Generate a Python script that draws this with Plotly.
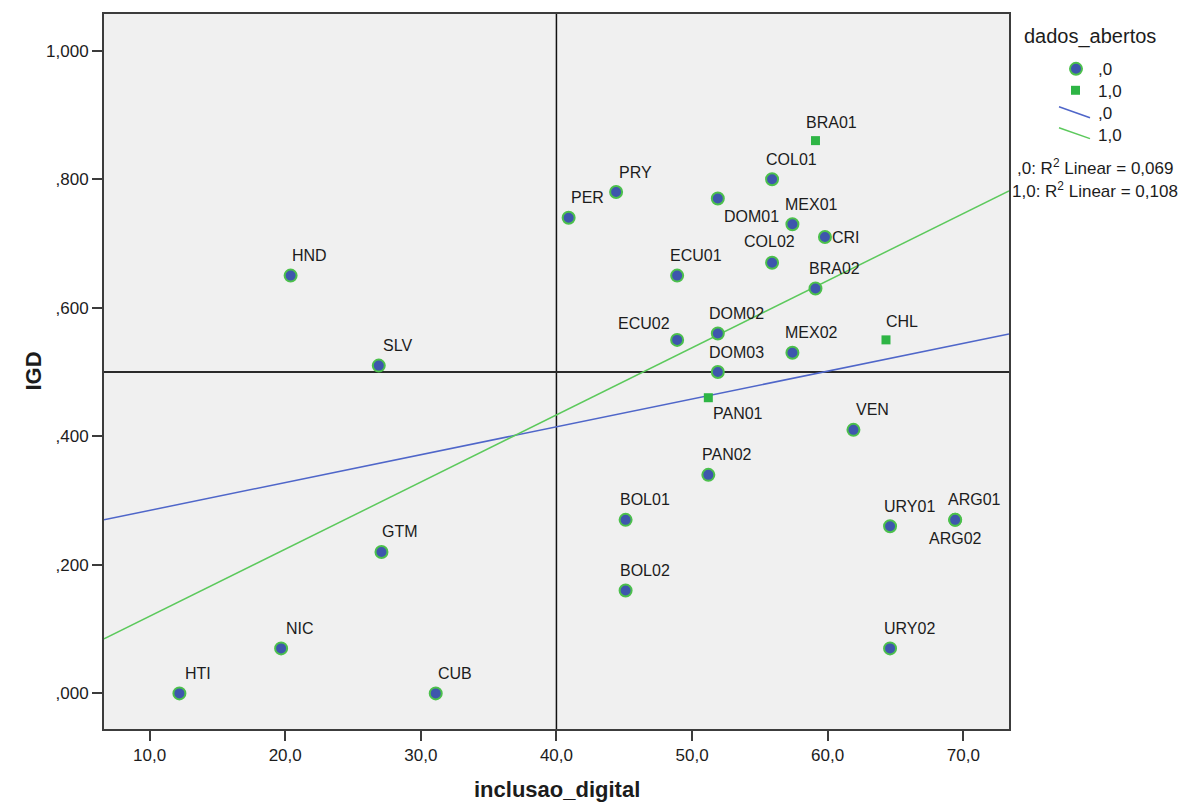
import numpy as np
import plotly.graph_objects as go

# dados_abertos = ,0  (circles)
labels_0 = ["HTI", "NIC", "CUB", "GTM", "SLV", "HND", "PER", "PRY", "DOM01", "COL01",
            "MEX01", "CRI", "COL02", "ECU01", "BRA02", "ECU02", "DOM02", "MEX02", "DOM03",
            "VEN", "PAN02", "BOL01", "BOL02", "URY01", "ARG01", "ARG02", "URY02"]
inclusao_0 = [12.2, 19.7, 31.1, 27.1, 26.9, 20.4, 40.9, 44.4, 51.9, 55.9,
              57.4, 59.8, 55.9, 48.9, 59.1, 48.9, 51.9, 57.4, 51.9,
              61.9, 51.2, 45.1, 45.1, 64.6, 69.4, 69.4, 64.6]
igd_0 = [0.00, 0.07, 0.00, 0.22, 0.51, 0.65, 0.74, 0.78, 0.77, 0.80,
         0.73, 0.71, 0.67, 0.65, 0.63, 0.55, 0.56, 0.53, 0.50,
         0.41, 0.34, 0.27, 0.16, 0.26, 0.27, 0.27, 0.07]

# dados_abertos = 1,0  (squares)
labels_1 = ["BRA01", "CHL", "PAN01"]
inclusao_1 = [59.1, 64.3, 51.2]
igd_1 = [0.86, 0.55, 0.46]

r2_values = [0.069, 0.108]
group_names = [",0", "1,0"]

x_ticks = [10, 20, 30, 40, 50, 60, 70]
x_tick_text = ["10,0", "20,0", "30,0", "40,0", "50,0", "60,0", "70,0"]
y_ticks = [0.0, 0.2, 0.4, 0.6, 0.8, 1.0]
y_tick_text = [",000", ",200", ",400", ",600", ",800", "1,000"]

X_RANGE = [6.64, 73.37]
Y_RANGE = [-0.0554, 1.057]
X_REF, Y_REF = 40, 0.5

BLUE_FILL = "#3e56ad"
RING_GREEN = "#4cc04c"
SQUARE_GREEN = "#2eb545"
LINE_BLUE = "#4f66c9"
LINE_GREEN = "#5cc95c"
TEXT = "#1c1c1c"
FONT = "Liberation Sans, Arial, sans-serif"

W, H = 1193, 803
ML, MR, MT, MB = 104, 184, 12, 74
PW, PH = W - ML - MR, H - MT - MB


def px(p):
    return (p - ML) / PW


def py(p):
    return (H - MB - p) / PH


fig = go.Figure()

# least-squares fit line for each group across the full x range
xs = np.array(X_RANGE)
for xv, yv, col in [(inclusao_0, igd_0, LINE_BLUE), (inclusao_1, igd_1, LINE_GREEN)]:
    slope, intercept = np.polyfit(xv, yv, 1)
    fig.add_trace(go.Scatter(x=xs, y=slope * xs + intercept, mode="lines",
                             line=dict(color=col, width=1.5), hoverinfo="skip"))

fig.add_trace(go.Scatter(
    x=inclusao_0, y=igd_0, mode="markers", text=labels_0,
    marker=dict(symbol="circle", size=12, color=BLUE_FILL,
                line=dict(color=RING_GREEN, width=2))))
fig.add_trace(go.Scatter(
    x=inclusao_1, y=igd_1, mode="markers", text=labels_1,
    marker=dict(symbol="square", size=9, color=SQUARE_GREEN, line=dict(width=0))))

# point labels (pixel offsets of the label centre from the marker)
label_offset = {"DOM01": (34, 18), "CRI": (21, 0), "COL02": (-3, -21),
                "ARG02": (0, 19), "ECU02": (-33, -16), "PAN01": (30, 16)}
annotations = []
for labs, xv, yv, default in [(labels_0, inclusao_0, igd_0, (19, -20)),
                              (labels_1, inclusao_1, igd_1, (16, -18))]:
    for lab, xx, yy in zip(labs, xv, yv):
        dx, dy = label_offset.get(lab, default)
        annotations.append(dict(x=xx, y=yy, xref="x", yref="y", text=lab,
                                showarrow=False, xanchor="center", yanchor="middle",
                                xshift=dx, yshift=-dy,
                                font=dict(family=FONT, size=16, color=TEXT)))

# axis titles
annotations.append(dict(x=0.5, y=py(790), xref="paper", yref="paper",
                        text="<b>inclusao_digital</b>", showarrow=False,
                        xanchor="center", yanchor="middle",
                        font=dict(family=FONT, size=22, color=TEXT)))
annotations.append(dict(x=px(33), y=0.5, xref="paper", yref="paper",
                        text="<b>IGD</b>", showarrow=False, textangle=-90,
                        xanchor="center", yanchor="middle",
                        font=dict(family=FONT, size=22, color=TEXT)))

# legend block
annotations.append(dict(x=px(1090), y=py(35), xref="paper", yref="paper",
                        text="dados_abertos", showarrow=False,
                        xanchor="center", yanchor="middle",
                        font=dict(family=FONT, size=20, color=TEXT)))
for name, ycen in zip(group_names + group_names, [68, 90, 112, 134]):
    annotations.append(dict(x=px(1096), y=py(ycen), xref="paper", yref="paper",
                            text=name, showarrow=False,
                            xanchor="left", yanchor="middle",
                            font=dict(family=FONT, size=17, color=TEXT)))
for name, r2, ycen in zip(group_names, r2_values, [165, 188]):
    txt = f"{name}: R<sup>2</sup> Linear = {r2:.3f}".replace("0.", "0,")
    annotations.append(dict(x=px(1095), y=py(ycen), xref="paper", yref="paper",
                            text=txt, showarrow=False,
                            xanchor="center", yanchor="middle",
                            font=dict(family=FONT, size=17, color=TEXT)))

shapes = [
    dict(type="line", xref="x", yref="paper", x0=X_REF, x1=X_REF, y0=0, y1=1,
         line=dict(color="#111111", width=1.5), layer="below"),
    dict(type="line", xref="paper", yref="y", x0=0, x1=1, y0=Y_REF, y1=Y_REF,
         line=dict(color="#2a2a2a", width=2), layer="below"),
    # legend symbols
    dict(type="circle", xref="paper", yref="paper",
         x0=px(1070), x1=px(1082), y0=py(73), y1=py(61),
         fillcolor=BLUE_FILL, line=dict(color=RING_GREEN, width=2)),
    dict(type="rect", xref="paper", yref="paper",
         x0=px(1071), x1=px(1080), y0=py(93), y1=py(84),
         fillcolor=SQUARE_GREEN, line=dict(width=0)),
    dict(type="line", xref="paper", yref="paper",
         x0=px(1059), x1=px(1090), y0=py(105), y1=py(116),
         line=dict(color=LINE_BLUE, width=1.5)),
    dict(type="line", xref="paper", yref="paper",
         x0=px(1059), x1=px(1090), y0=py(126), y1=py(137),
         line=dict(color=LINE_GREEN, width=1.5)),
]

axis_common = dict(showgrid=False, zeroline=False, showline=True, mirror=True,
                   linecolor="#3c3c3c", linewidth=2, ticks="outside", ticklen=10,
                   tickwidth=2, tickcolor="#3c3c3c",
                   tickfont=dict(family=FONT, size=17, color=TEXT))

fig.update_layout(
    width=W, height=H,
    margin=dict(l=ML, r=MR, t=MT, b=MB),
    paper_bgcolor="white", plot_bgcolor="#f0f0f0",
    showlegend=False,
    xaxis=dict(range=X_RANGE, tickvals=x_ticks, ticktext=x_tick_text, **axis_common),
    yaxis=dict(range=Y_RANGE, tickvals=y_ticks, ticktext=y_tick_text, **axis_common),
    annotations=annotations, shapes=shapes,
)

fig.write_html("out.html")
